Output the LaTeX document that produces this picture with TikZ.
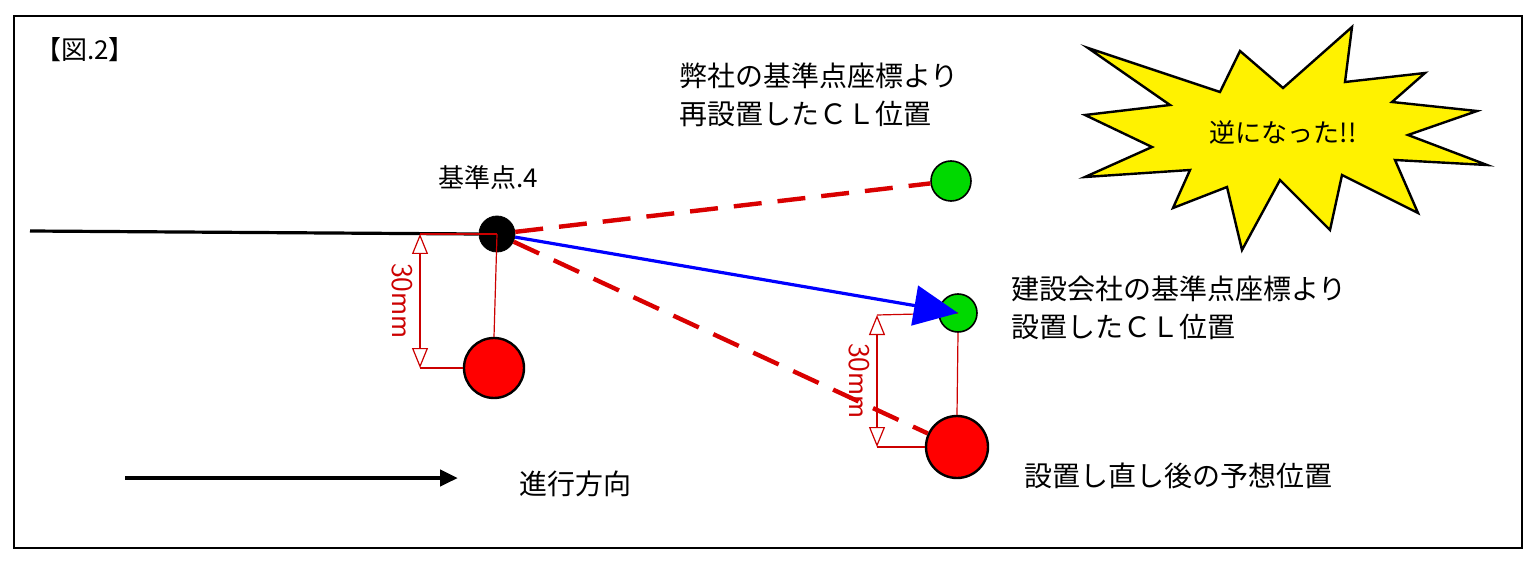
\documentclass[tikz,border=0pt]{standalone}
\usepackage{fontspec}
\setmainfont{Noto Sans CJK JP}
\usetikzlibrary{arrows.meta}
\tikzset{
  dimline/.style={red!80!black, line width=0.6pt},
  dimtip/.style={dimline, {Triangle[open,length=10pt,width=8pt]}-{Triangle[open,length=10pt,width=8pt]}},
  cllink/.style={red!85!black, line width=2.2pt, dash pattern=on 14pt off 8pt},
  caption/.style={font=\fontsize{14}{19}\selectfont, align=left, anchor=west},
  dimtext/.style={red!80!black, rotate=-90, anchor=north, font=\fontsize{15}{16}\selectfont\sffamily},
}
\begin{document}
\begin{tikzpicture}[x=0.5pt,y=-0.5pt]
	\useasboundingbox (0,0) rectangle (1536,561);
	\draw[line width=0.8pt] (14,16) rectangle (1522,548);
	\node (fig) at (85,50) {\fontsize{13}{14}\selectfont 【図.2】};
	
	% points
	\node[circle, draw, fill=black, minimum size=18pt, inner sep=0pt] (bm) at (497,234) {};
	\node[circle, draw, line width=1.2pt, fill=red, minimum size=30pt, inner sep=0pt] (ra) at (494,368) {};
	\node[circle, draw, line width=0.8pt, fill=green!85!black, minimum size=20pt, inner sep=0pt] (ga) at (951,181) {};
	\node[circle, draw, line width=0.8pt, fill=green!85!black, minimum size=19pt, inner sep=0pt] (gb) at (958,313) {};
	\node[circle, draw, line width=1.2pt, fill=red, minimum size=31pt, inner sep=0pt] (rb) at (957,447) {};
	\coordinate (lineA) at (30,231);
	\draw[line width=1.6pt] (lineA) -- (bm.west);
	
	% dimension left
	\coordinate (dla) at (420,234);
	\coordinate (dlb) at (420,368);
	\draw[dimline] (dla) -- (bm.center);
	\draw[dimline] (bm.center) -- (ra.north);
	\draw[dimline] (dlb) -- (ra.west);
	\draw[dimtip] (dla) -- (dlb) node[midway, dimtext] {30mm};
	
	% dimension right
	\coordinate (dra) at (877,315);
	\coordinate (drb) at (877,447);
	\draw[dimline] (dra) -- (gb.center);
	\draw[dimline] (gb.south) -- (rb.north);
	\draw[dimline] (drb) -- (rb.west);
	\draw[dimtip] (dra) -- (drb) node[midway, dimtext] {30mm};
	
	% connections
	\draw[cllink] (bm) -- (ga);
	\draw[cllink] (bm) -- (rb);
	\draw[blue, line width=1.6pt, -{Triangle[length=22pt,width=20pt]}] (bm) -- (gb.center);
	
	% direction
	\coordinate (dirA) at (125,478);
	\coordinate (dirB) at (458,478);
	\draw[line width=2.4pt, -{Triangle[length=9pt,width=8pt]}] (dirA) -- (dirB);
	
	% burst
	\draw[fill=yellow, line width=1.2pt] (1088,48) -- (1220,92) -- (1240,51) -- (1283,88) -- (1352,27) -- (1345,82) -- (1425,73) -- (1392,102) -- (1477,111) -- (1408,135) -- (1487,165) -- (1395,160) -- (1418,213) -- (1342,175) -- (1330,230) -- (1280,180) -- (1242,250) -- (1227,187) -- (1173,208) -- (1190,170) -- (1085,177) -- (1152,147) -- (1085,115) -- (1170,105) -- cycle;
	\node[font=\fontsize{13}{14}\selectfont] (burst) at (1283,133) {逆になった!!};
	
	% labels
	\node[font=\fontsize{13}{14}\selectfont] (bmlab) at (488,178) {基準点.4};
	\node[caption] (galab) at (672,95) {弊社の基準点座標より\\再設置したＣＬ位置};
	\node[caption] (gblab) at (1004,308) {建設会社の基準点座標より\\設置したＣＬ位置};
	\node[caption] (rblab) at (1017,476) {設置し直し後の予想位置};
	\node[caption] (dirlab) at (512,484) {進行方向};
\end{tikzpicture}
\end{document}
